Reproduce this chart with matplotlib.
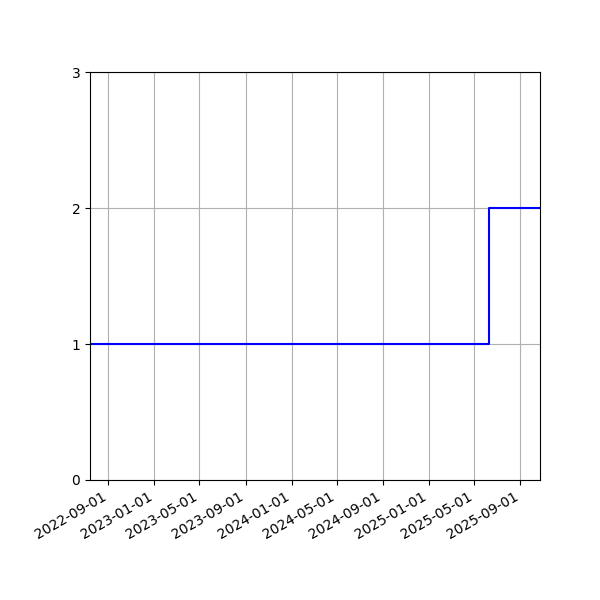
import numpy as np
import pandas as pd
import matplotlib
import matplotlib.pyplot as plt
import matplotlib.dates as mdates

matplotlib.use("Agg")

dates = pd.to_datetime(["2022-07-14", "2025-06-09", "2025-10-23"])
counts = [1, 2, 2]
y_ticks = [0, 1, 2, 3]

fig, ax = plt.subplots(figsize=(6, 6), dpi=100)

ax.step(dates, counts, where="post", color="blue")

ax.set_xlim(dates[0], dates[-1])
ax.set_ylim(0, 3)
ax.set_yticks(y_ticks)
ax.xaxis.set_major_locator(mdates.MonthLocator(bymonth=[1, 5, 9]))
ax.xaxis.set_major_formatter(mdates.DateFormatter("%Y-%m-%d"))
ax.grid()

fig.autofmt_xdate()
fig.subplots_adjust(left=0.15, right=0.9, top=0.88, bottom=0.2)

fig.savefig("out.png")
